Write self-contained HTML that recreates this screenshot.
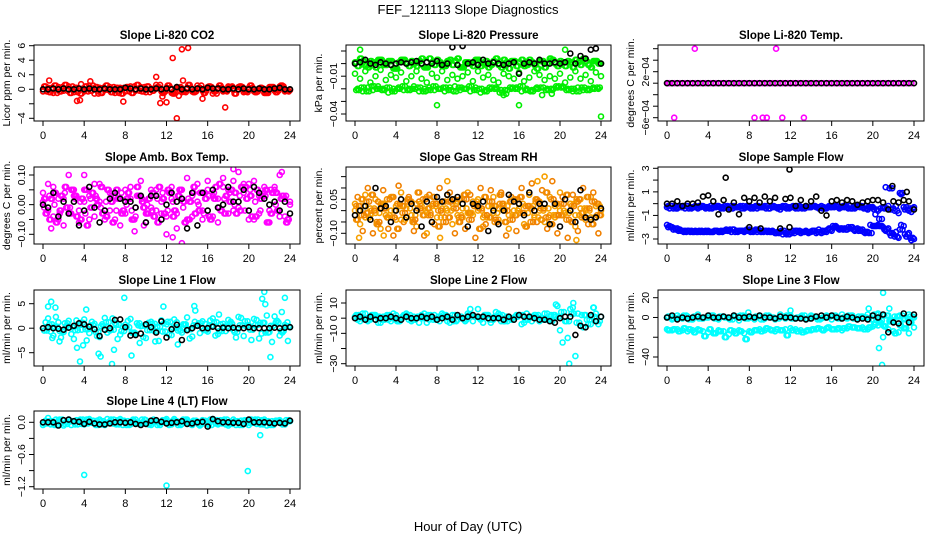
<!DOCTYPE html>
<html><head><meta charset="utf-8">
<style>
html,body{margin:0;padding:0;background:#fff;}
svg{display:block;font-family:"Liberation Sans",Arial,sans-serif;}
</style></head>
<body>
<svg id="chart" width="936" height="540" viewBox="0 0 936 540">
<text x="468" y="14" text-anchor="middle" font-size="13">FEF_121113  Slope Diagnostics</text>
<text x="468" y="531" text-anchor="middle" font-size="13">Hour of Day (UTC)</text>
</svg>
<script>
// ---- shared x (hour) arrays ----
const hoursFull = [0,0.5,1,1.5,2,2.5,3,3.5,4,4.5,5,5.5,6,6.5,7,7.5,8,8.5,9,9.5,10,10.5,11,11.5,12,12.5,13,13.5,14,14.5,15,15.5,16,16.5,17,17.5,18,18.5,19,19.5,20,20.5,21,21.5,22,22.5,23,23.5,24];
const hoursMid = [0.25,0.75,1.25,1.75,2.25,2.75,3.25,3.75,4.25,4.75,5.25,5.75,6.25,6.75,7.25,7.75,8.25,8.75,9.25,9.75,10.25,10.75,11.25,11.75,12.25,12.75,13.25,13.75,14.25,14.75,15.25,15.75,16.25,16.75,17.25,17.75,18.25,18.75,19.25,19.75,20.25,20.75,21.25,21.75,22.25,22.75,23.25,23.75];
const hoursQ1 = [0.12,0.62,1.12,1.62,2.12,2.62,3.12,3.62,4.12,4.62,5.12,5.62,6.12,6.62,7.12,7.62,8.12,8.62,9.12,9.62,10.12,10.62,11.12,11.62,12.12,12.62,13.12,13.62,14.12,14.62,15.12,15.62,16.12,16.62,17.12,17.62,18.12,18.62,19.12,19.62,20.12,20.62,21.12,21.62,22.12,22.62,23.12,23.62];
const hoursQ3 = [0.38,0.88,1.38,1.88,2.38,2.88,3.38,3.88,4.38,4.88,5.38,5.88,6.38,6.88,7.38,7.88,8.38,8.88,9.38,9.88,10.38,10.88,11.38,11.88,12.38,12.88,13.38,13.88,14.38,14.88,15.38,15.88,16.38,16.88,17.38,17.88,18.38,18.88,19.38,19.88,20.38,20.88,21.38,21.88,22.38,22.88,23.38,23.88];
const xTicks = [0,4,8,12,16,20,24];

// ---- Panel 1: CO2 ----
const co2Black = [0,0,0.1,0,0.1,0,0,0.1,0,0.1,0,0,0.1,0,0,0,0.2,0.1,0,0.1,0,0,0.1,0,0.1,0,0.3,0,0.1,0,0.1,0,0.2,0.1,0.1,0,0,0.1,0,0.1,0,0,0.1,0,0,0.1,0.2,0,0];
const co2RedA = [-0.3,0.2,-0.5,0.3,-0.2,0.4,-0.4,0.1,-0.3,0.5,-0.6,0.2,-0.1,0.3,-0.5,0.2,-0.3,0.4,-0.2,0.3,-0.4,0.1,0.6,-0.3,0.2,-0.5,0.3,-0.4,0.2,-0.3,0.5,-0.2,0.3,-0.6,0.2,-0.3,0.4,-0.1,0.3,-0.4,0.2,-0.3,0.1,-0.5,0.3,-0.2,0.4,-0.3,-0.1];
const co2RedB = [0.4,-0.4,0.5,-0.3,0.6,-0.5,0.2,-0.6,0.4,-0.2,0.3,-0.5,0.5,-0.4,0.2,-0.6,0.3,-0.5,0.6,-0.3,0.4,-0.2,0.3,-0.5,0.5,-0.6,0.2,-0.3,0.6,-0.4,0.2,-0.5,0.4,-0.3,0.5,-0.2,0.3,-0.6,0.4,-0.3,0.5,-0.4,0.2,-0.5,0.3,-0.4,0.5,-0.2];
const co2OutX = [0.6,3.3,3.6,3.7,4.6,7.8,11.0,11.4,11.6,12.0,12.6,13.0,13.2,13.5,13.6,14.1,15.5,17.7];
const co2OutY = [1.2,-1.6,-1.5,0.7,1.1,-1.7,1.7,-1.9,-1.0,-1.8,4.3,-4.0,-0.9,5.5,1.2,5.7,-1.3,-2.5];

// ---- Panel 2: Pressure ----
const pressBlack = [0,0.001,0.003,0,-0.001,0.001,0,-0.001,0,0.001,0,0.001,0.002,0,0.001,0,0.002,-0.001,0,0.013,-0.001,0.014,0,0.001,-0.001,0.003,0,0.001,0,-0.001,0,0.001,-0.008,0,0.001,0,0.003,0,0,0.001,0,0.001,0.008,0,0.006,0.004,0.011,0.012,0];
const pressGreenA = [0.001,0.004,-0.002,0.002,-0.003,0.003,-0.001,0.002,-0.004,0.003,0,0.002,-0.002,0.004,-0.003,0.001,0.003,-0.002,0.002,-0.001,0.004,-0.003,0.001,-0.002,0.003,0,-0.003,0.002,-0.001,0.003,-0.004,0.002,0.001,-0.002,0.003,-0.001,0.002,-0.003,0.004,0,0.002,-0.002,0.001,0.003,-0.001,0.002,-0.003,0.002,0];
const pressGreenB = [-0.02,-0.022,-0.019,-0.021,-0.018,-0.02,-0.023,-0.02,-0.019,-0.021,-0.02,-0.018,-0.022,-0.02,-0.019,-0.021,-0.02,-0.022,-0.019,-0.018,-0.021,-0.02,-0.022,-0.019,-0.023,-0.021,-0.02,-0.019,-0.021,-0.024,-0.02,-0.019,-0.022,-0.02,-0.021,-0.019,-0.025,-0.02,-0.021,-0.019,-0.018,-0.02,-0.022,-0.019,-0.021,-0.02,-0.019,-0.02];
const pressGreenC = [-0.008,-0.012,-0.006,-0.015,-0.01,-0.005,-0.013,-0.009,-0.011,-0.007,-0.014,-0.01,-0.006,-0.012,-0.015,-0.008,-0.011,-0.006,-0.013,-0.009,-0.012,-0.01,-0.007,-0.014,-0.006,-0.011,-0.009,-0.013,-0.015,-0.008,-0.01,-0.012,-0.007,-0.014,-0.011,-0.006,-0.009,-0.013,-0.01,-0.012,-0.008,-0.015,-0.011,-0.006,-0.012,-0.009,-0.014,-0.007,-0.01];
const pressGreenD = [-0.002,0.002,-0.003,0.001,0.003,-0.001,0.002,-0.004,0.001,0.003,-0.002,0,0.002,-0.003,0.004,-0.001,0.001,-0.002,0.003,0.002,-0.003,0.001,0,0.003,-0.002,0.002,-0.001,0.004,-0.003,0.001,0.002,-0.002,0.003,-0.001,0.001,-0.004,0.002,0,0.003,-0.002,0.001,0.002,-0.003,0.001,0.004,-0.001,0.002,0];
const pressGreenE = [-0.021,-0.019,-0.022,-0.018,-0.02,-0.021,-0.019,-0.022,-0.02,-0.018,-0.021,-0.02,-0.019,-0.022,-0.021,-0.018,-0.02,-0.019,-0.021,-0.022,-0.019,-0.02,-0.018,-0.021,-0.02,-0.022,-0.019,-0.02,-0.023,-0.021,-0.019,-0.02,-0.018,-0.021,-0.022,-0.02,-0.019,-0.021,-0.02,-0.018,-0.019,-0.021,-0.02,-0.022,-0.019,-0.021,-0.02,-0.019];
const pressOutX = [0.5,8.0,16.0,24.0,20.5,14.5,19.2];
const pressOutY = [0.011,-0.033,-0.033,-0.042,0.011,-0.025,-0.024];

// ---- Panel 3: Li-820 Temp ----
const tempBlack = [0,0,0,0,0,0,0,0,0,0,0,0,0,0,0,0,0,0,0,0,0,0,0,0,0,0,0,0,0,0,0,0,0,0,0,0,0,0,0,0,0,0,0,0,0,0,0,0,0];
const tempMagenta = [0,0,0,0,0,0,0,0,0,0,0,0,0,0,0,0,0,0,0,0,0,0,0,0,0,0,0,0,0,0,0,0,0,0,0,0,0,0,0,0,0,0,0,0,0,0,0,0];
const tempOutX = [0.1,0.7,2.7,8.5,9.3,9.7,10.6,11.2,13.3];
const tempOutY = [0,-6e-4,6e-4,-6e-4,-6e-4,-6e-4,6e-4,-6e-4,-6e-4];

// ---- Panel 4: Amb Box Temp ----
const ambBlack = [0,-0.01,0.04,-0.04,0.01,-0.03,0.01,-0.07,-0.02,0.06,-0.01,-0.06,-0.02,0.02,0.04,0.02,0.01,0.01,-0.01,0.03,-0.06,0.03,0.03,-0.05,0,0.04,0.01,0.02,-0.08,0.04,-0.07,0.04,-0.02,0.05,-0.01,0,0.06,0.01,0.01,0.05,-0.02,0.06,0.04,0.02,0,0.01,-0.02,0.01,-0.03];
const ambMagA = [0.04,-0.02,0.06,-0.05,0.02,-0.03,0.05,-0.06,0.01,0.03,-0.04,0.07,-0.02,0.04,-0.05,0.02,-0.03,0.06,-0.01,0.03,-0.06,0.05,-0.02,0.01,-0.04,0.06,-0.03,0.02,-0.05,0.03,0.07,-0.02,0.05,-0.04,0.02,0.06,-0.03,0.08,-0.01,0.04,0.07,-0.05,0.03,0.06,-0.02,0.05,-0.04,0.02,0.01];
const ambMagB = [-0.03,0.02,-0.06,0.03,-0.01,0.05,-0.04,0.02,-0.07,0.04,0,-0.03,0.05,-0.06,0.02,-0.02,0.04,-0.05,0.03,-0.01,0.02,-0.04,0.06,-0.03,0.04,-0.02,0.05,-0.06,0.01,-0.03,0.04,0.02,-0.05,0.06,-0.02,0.03,0.05,-0.03,0.06,0.02,-0.04,0.05,0.03,-0.06,0.04,-0.02,0.03,-0.05];
const ambMagC = [0.01,0.07,-0.04,0.02,-0.07,0.1,0.03,-0.02,0.05,-0.05,0.07,0.01,-0.05,-0.02,0.03,-0.07,0.05,0.02,-0.04,0.08,-0.03,-0.01,0.05,-0.03,-0.1,0.02,-0.08,0.05,0.09,-0.04,0.01,-0.05,0.08,0.03,-0.06,0.09,0.05,-0.02,0.11,0.07,-0.05,0.08,-0.03,0.04,-0.06,0.06,0.1,-0.04,0];
const ambMagD = [0.02,-0.05,0.04,-0.02,0.06,-0.03,0.03,-0.05,0.05,-0.01,0.02,0.06,-0.04,0.01,0.05,-0.03,0.02,-0.05,0.06,0.01,-0.03,0.04,-0.06,0.02,0.05,-0.04,0.03,0.01,-0.05,0.06,-0.02,0.04,-0.04,0.02,0.07,-0.03,0.01,0.04,-0.02,0.06,0.03,-0.04,0.02,0.05,-0.03,0.04,0.02,-0.06];
const ambMagE = [-0.01,0.03,0,-0.03,0.04,-0.01,0.02,0.01,-0.03,0.02,0.03,-0.01,0.01,0.03,-0.02,0.04,0,-0.02,0.03,0.02,0,-0.02,0.02,0.04,-0.02,0.01,0.03,-0.01,0.02,0.04,0,-0.03,0.03,0.04,-0.01,0.02,0.04,0,0.03,-0.02,0.05,0.01,-0.02,0.03,0.05,0,0.02,0.03];
const ambOutX = [0.8,4.0,8.9,9.8,12.6,13.5,18.5,23.2];
const ambOutY = [-0.08,0.1,-0.09,-0.07,-0.11,-0.13,0.12,0.11];

// ---- Panel 5: Gas Stream RH ----
const rhBlack = [-0.02,0,0.02,-0.04,0.1,0.01,0.02,-0.05,0,0.05,-0.03,0.03,0,-0.07,0.04,-0.05,0.06,0.04,0.07,0.05,0.06,0.03,-0.07,0.03,0.02,0.04,-0.09,0,-0.06,0,0.07,0.04,0.03,-0.02,0.08,0,0.03,0.03,-0.06,0.03,-0.07,0.05,0,-0.05,0.09,-0.03,-0.04,-0.03,0.01];
const rhOrangeA = [0.03,-0.06,0.07,-0.02,0.05,-0.08,0.01,0.06,-0.04,0.08,-0.03,0.04,-0.07,0.02,0.06,-0.05,0.03,-0.01,0.07,-0.06,0.04,-0.03,0.08,-0.02,0.05,-0.07,0.02,0.06,-0.04,0.03,-0.08,0.05,0.01,-0.06,0.07,-0.02,0.04,-0.05,0.06,-0.03,0.08,-0.01,0.03,-0.07,0.05,-0.04,0.06,0.02,-0.02];
const rhOrangeB = [-0.04,0.05,-0.01,0.07,-0.06,0.03,-0.03,0.06,-0.08,0.02,0.05,-0.05,0.08,-0.02,0.01,0.06,-0.07,0.04,-0.03,0.05,-0.05,0.07,-0.01,0.03,-0.08,0.06,-0.03,0.02,0.07,-0.05,0.04,-0.02,0.06,-0.07,0.01,0.05,-0.04,0.08,-0.06,0.03,-0.02,0.07,-0.05,0.04,-0.01,0.06,-0.06,0.03];
const rhOrangeC = [0,0.02,-0.03,0.01,-0.01,0.03,-0.02,0,0.02,-0.04,0.01,-0.02,0.03,0,-0.01,0.02,-0.03,0.01,0,0.03,-0.02,0.01,-0.01,0.04,0,-0.03,0.02,-0.01,0.01,0.02,-0.02,0,0.03,-0.01,0.02,-0.03,0,0.01,-0.02,0.02,0,-0.01,0.03,-0.02,0.01,0,-0.03,0.02,0];
const rhOrangeD = [0.06,-0.09,0.1,-0.1,0.04,0.09,-0.08,-0.11,0.11,-0.05,0.06,-0.09,0.04,-0.11,0.07,-0.06,0.1,-0.03,0.08,-0.1,0.05,-0.08,0.07,-0.12,0.1,-0.06,0.09,-0.04,0.08,-0.11,0.06,-0.09,0.1,-0.07,0.12,-0.05,0.09,-0.08,0.13,-0.1,0.06,-0.12,0.07,-0.09,0.1,-0.06,0.08,-0.1];
const rhOrangeE = [0.02,-0.02,0.04,0,-0.05,0.01,0.05,-0.03,0.03,-0.01,0.04,-0.04,0.01,0.05,-0.02,0.03,0,-0.05,0.04,0.01,-0.03,0.05,-0.04,0.02,0.01,-0.02,0.04,-0.05,0.03,0,-0.04,0.05,-0.01,0.02,-0.05,0.04,0.01,-0.03,0.05,-0.02,0.03,-0.04,0.02,0.05,-0.03,0.01,0.04,-0.02];
const rhOutX = [0.4,2.8,8.3,18.5,21.6,17.8,7.0,9.0];
const rhOutY = [-0.12,-0.11,-0.12,0.15,-0.13,0.13,-0.1,0.13];

// ---- Panel 6: Sample Flow ----
const flowBlack = [0,0,0.2,-0.2,0,0,0.1,0.6,0.7,0.2,-0.9,0.3,-0.5,0.1,-0.9,0.5,0.2,0.5,0.1,0.6,0.2,0.5,-2.1,0.4,0.5,-0.2,0.3,-0.2,0.2,0.6,-0.6,-1.0,0.2,0.3,0.1,0.3,0.2,-0.1,0.1,0.2,0.3,0.3,0.1,-0.5,0.2,0.1,0.3,0.2,-0.5];
const flowBlueA = [-0.3,-0.2,-0.4,-0.3,-0.2,-0.3,-0.4,-0.2,-0.3,-0.3,-0.2,-0.4,-0.3,-0.2,-0.3,-0.4,-0.2,-0.3,-0.3,-0.2,-0.4,-0.3,-0.5,-0.2,-0.3,-0.4,-0.3,-0.2,-0.3,-0.3,-0.2,-0.4,-0.3,-0.2,-0.3,-0.3,-0.4,-0.2,-0.3,-0.5,-0.3,-0.6,-0.3,-0.2,-0.4,-0.8,-0.3,-0.6,-0.3];
const flowBlueB = [-0.4,-0.3,-0.2,-0.4,-0.3,-0.2,-0.3,-0.4,-0.2,-0.3,-0.4,-0.3,-0.2,-0.3,-0.4,-0.2,-0.3,-0.4,-0.3,-0.2,-0.3,-0.4,-0.2,-0.3,-0.2,-0.4,-0.3,-0.3,-0.2,-0.4,-0.3,-0.2,-0.3,-0.4,-0.3,-0.2,-0.4,-0.3,-0.2,-0.3,-0.9,-0.4,1.4,-0.5,-0.2,0.8,-0.3,-0.7];
const flowBlueC = [-1.8,-2.0,-2.1,-2.3,-2.3,-2.4,-2.4,-2.4,-2.3,-2.4,-2.4,-2.3,-2.3,-2.2,-2.3,-2.4,-2.2,-2.3,-2.3,-2.3,-2.4,-2.5,-2.4,-2.5,-2.4,-2.3,-2.5,-2.3,-2.4,-2.5,-2.5,-2.4,-2.3,-2.0,-2.1,-2.2,-2.0,-2.1,-2.2,-2.4,-1.9,-1.8,-2.0,-2.1,-2.6,-2.9,-1.9,-2.5,-3.0];
const flowBlueD = [-1.9,-2.1,-2.2,-2.3,-2.4,-2.3,-2.4,-2.3,-2.4,-2.3,-2.3,-2.2,-2.4,-2.3,-2.3,-2.2,-2.3,-2.4,-2.3,-2.4,-2.3,-2.4,-2.6,-2.4,-2.3,-2.4,-2.4,-2.5,-2.3,-2.2,-2.4,-2.1,-2.0,-2.2,-2.1,-2.1,-2.3,-2.2,-2.5,-1.8,-1.9,-1.9,-2.3,-2.7,-2.4,-1.8,-2.8,-3.1];
const flowBlueE = [-0.2,-0.4,-0.3,-0.2,-0.4,-0.3,-0.2,-0.3,-0.4,-0.2,-0.3,-0.2,-0.4,-0.3,-0.2,-0.3,-0.4,-0.2,-0.3,-0.4,-0.2,-0.3,-0.3,-0.4,-0.3,-0.2,-0.4,-0.3,-0.2,-0.3,-0.4,-0.3,-0.2,-0.3,-0.2,-0.4,-0.3,-0.2,-0.4,-0.3,-0.5,-1.3,-0.4,1.3,-0.6,0.9,-0.5,-0.4];
const flowBlueF = [-2.0,-2.2,-2.3,-2.4,-2.3,-2.4,-2.3,-2.4,-2.4,-2.3,-2.4,-2.3,-2.2,-2.4,-2.3,-2.3,-2.4,-2.2,-2.4,-2.3,-2.4,-2.5,-2.3,-2.6,-2.5,-2.3,-2.4,-2.4,-2.3,-2.4,-2.3,-2.2,-1.9,-2.1,-2.2,-2.0,-2.2,-2.3,-2.4,-2.5,-1.9,-1.9,-2.2,-2.5,-2.8,-2.2,-2.6,-2.9];
const flowOutX = [5.7,11.9,11.9,8.0,9.1,21.9,23.3];
const flowOutY = [2.2,2.9,-2.0,-2.0,-2.1,1.5,1.0];

// ---- Panel 7: Line 1 Flow ----
const l1Black = [0,0.2,0,-0.1,-0.3,0.1,0.5,1.0,0.8,0.3,-0.2,-1.6,-0.3,0,1.7,1.8,0.2,-1.5,-1.4,-1.1,0.8,0.2,-0.9,1.4,-1.9,-0.2,0.7,-2.4,-0.4,0,0.5,0,0,0.3,0,0.1,0,0.1,0,0,0.2,0,0,0,0,0.1,0,0.1,0.2];
const l1CyanA = [0,2.0,-1.5,1.2,-0.8,1.5,-2.2,0.6,1.8,-1.0,0.9,-1.8,2.1,-0.5,1.0,-1.3,0.7,1.9,-1.1,0.4,-2.0,1.3,-0.6,1.6,0.8,-1.4,1.2,-0.9,2.2,-1.7,0.5,1.4,-0.7,2.0,-1.2,0.9,1.7,-0.4,2.3,-1.6,0.6,1.9,-2.1,1.1,-0.8,2.4,-1.5,0.7,0.2];
const l1CyanB = [1.2,-0.7,2.3,-1.9,0.4,-1.2,1.6,-0.3,-2.5,1.3,-1.6,0.8,-0.9,2.0,-2.2,0.3,1.5,-1.0,0.6,-1.8,1.1,-0.5,-2.6,1.0,-1.3,1.8,-0.2,0.7,-2.1,1.3,-1.0,0.9,1.6,-1.5,0.8,-0.6,1.3,-1.9,2.1,0.4,-2.4,1.7,-1.1,2.6,-2.8,1.5,-0.9,1.2];
const l1CyanC = [-0.5,0.8,0.3,-0.6,1.0,0.2,-0.4,1.1,-0.2,0.6,-0.8,0.4,1.2,-0.3,0.7,-0.6,0.2,-0.9,1.0,0.5,-0.4,0.9,0.3,-0.7,1.3,0.1,-0.5,0.8,-0.2,0.6,1.0,-0.4,0.5,1.2,-0.6,0.3,0.9,-0.8,0.6,1.4,-0.3,0.7,1.1,-0.9,0.5,1.2,-0.6,0.4];
const l1OutX = [0.5,0.8,1.2,1.6,3.3,3.6,4.2,5.4,5.6,6.7,6.9,7.9,8.6,9.4,11.7,14.7,14.8,17.1,21.3,21.5,21.6,22.1,23.2,23.5,23.8,0.9,3.9,10.9,13.1];
const l1OutY = [4.4,5.4,4.2,-2.7,-4.0,-6.8,3.8,-5.2,-5.8,-7.3,-4.4,6.2,-5.6,-3.0,4.4,4.5,3.6,2.8,6.0,7.4,4.9,-5.9,3.3,6.2,-2.6,-2.0,-3.5,-2.7,-3.3];

// ---- Panel 8: Line 2 Flow ----
const l2Black = [0,1,-1,1,-1,0,0,1,0,-1,1,0,0,1,0,1,-1,0,1,-1,2,0,1,2,1,1,0,0,0,-1,1,-1,2,1,1,0,-1,-1,-2,-3,0,1,1,-11,-5,-6,2,-2,1];
const l2CyanA = [1,-2,3,-1,2,-3,1,-2,2,-1,3,-2,0,2,-3,1,-1,3,-2,2,-1,0,3,-2,1,-3,2,-1,3,-2,1,-1,2,-3,0,2,-2,3,-1,2,-8,-2,6,-25,-5,2,-4,3,1];
const l2CyanB = [-1,3,-2,2,-3,1,-1,3,-2,2,-1,1,-3,3,-1,2,-2,1,-3,2,0,-2,6,1,-1,2,-3,4,-2,1,-1,2,-4,3,-2,1,-1,3,-2,8,-16,-13,7,3,-6,-4,7,-4];
const l2CyanC = [2,0,-1,2,1,-1,2,0,-2,1,2,-1,1,0,2,-1,1,2,0,-2,1,-1,2,1,0,2,-1,1,2,-2,0,1,2,-1,1,2,0,-1,2,1,4,-2,3,-3,2,-1,1,-2];
const l2OutX = [21.0,20.9,21.3,12.0,19.6,23.3];
const l2OutY = [28,-30,10,6,9,7];

// ---- Panel 9: Line 3 Flow ----
const l3Black = [0,2,-2,0,-1,0,1,0,2,0,0,1,0,2,0,0,1,0,2,0,0,-1,1,0,0,-1,-1,-2,-1,1,2,0,2,0,-1,1,0,-2,-1,-2,2,0,3,-15,-5,-6,4,-5,3];
const l3CyanA = [0,-2,2,-1,1,-2,3,-1,0,2,-2,1,-1,2,-3,1,0,-2,2,-1,1,-2,3,-1,2,-1,1,-2,2,0,-1,2,-2,1,3,-1,2,-2,1,3,-2,4,-8,2,-3,1,-2,3,0];
const l3CyanB = [-12,-13,-12,-13,-14,-13,-12,-14,-15,-16,-13,-14,-17,-14,-13,-16,-14,-13,-12,-13,-12,-14,-13,-12,-11,-12,-13,-14,-13,-12,-12,-11,-12,-12,-13,-11,-10,-11,-10,-12,-9,-8,-20,-12,-14,-15,-11,-16,-10];
const l3CyanC = [-13,-12,-14,-11,-12,-15,-13,-19,-12,-16,-14,-20,-13,-16,-14,-22,-15,-13,-14,-11,-13,-12,-13,-18,-13,-14,-15,-13,-12,-11,-13,-10,-12,-11,-11,-9,-10,-11,-12,-10,-7,-5,-9,-3,-16,-8,-11,-5];
const l3CyanD = [1,-1,0,2,-2,1,-1,0,2,-1,1,0,-2,1,2,-1,0,1,-2,2,0,-1,1,2,-1,0,2,-1,1,-2,0,1,2,-1,0,2,-1,1,0,-2,3,-3,2,-4,1,2,-1,1];
const l3OutX = [21.0,20.9,20.6,21.6,12.0,7.9,19.6];
const l3OutY = [25,-48,-31,9,7,5,9];

// ---- Panel 10: Line 4 (LT) Flow ----
const l4Black = [0,0,0,-0.06,0.04,0.05,0.02,0.01,-0.03,0.01,-0.02,-0.04,-0.04,-0.02,0,0,-0.01,0,-0.03,-0.05,-0.03,0.03,0.04,0.01,-0.02,-0.01,0,0.02,-0.03,-0.02,0,0.01,-0.08,0.06,0.02,0,0,-0.01,-0.01,-0.03,0.05,0,0,0,-0.01,-0.02,-0.01,-0.02,0.03];
const l4CyanA = [-0.05,0.08,-0.03,0.04,-0.06,0.05,0,0.03,-0.04,0.06,-0.02,0.05,-0.05,0.02,-0.03,0.06,0,-0.04,0.05,-0.02,0.04,-0.05,0.03,-0.01,0.06,-0.04,0.02,-0.03,0.05,-0.05,0.01,0.04,-0.02,0.06,-0.04,0.03,-0.06,0.05,-0.01,0.03,-0.05,0.04,-0.02,0.05,-0.03,0.01,0.04,-0.04,0.02];
const l4CyanB = [0.03,-0.04,0.05,-0.02,0.01,-0.05,0.04,-0.03,0.05,-0.01,0.03,-0.04,0.06,-0.02,0.04,-0.05,0.02,0.05,-0.03,0.01,-0.04,0.05,-0.02,0.03,-0.05,0.06,-0.01,0.04,-0.03,0.02,-0.06,0.03,0.05,-0.02,0.04,-0.04,0.01,-0.05,0.03,-0.02,0.05,-0.03,0.04,-0.06,0.02,0.03,-0.04,0.01];
const l4CyanC = [-0.02,0.02,-0.05,0.05,-0.03,0.02,-0.04,0.05,-0.02,0.03,-0.05,0.02,-0.01,0.05,-0.04,0.03,-0.05,0.02,-0.02,0.05,-0.03,0.01,-0.05,0.04,-0.02,0.03,-0.05,0.05,-0.01,0.03,-0.04,0.02,-0.05,0.04,-0.02,0.05,-0.03,0.02,-0.05,0.04,-0.01,0.05,-0.04,0.02,-0.05,0.03,-0.02,0.04];
const l4OutX = [4.0,12.0,19.9,21.1];
const l4OutY = [-0.98,-1.18,-0.91,-0.24];

const NS = "http://www.w3.org/2000/svg";
const svg = document.getElementById('chart');
function mk(tag, attrs, parent){ const e=document.createElementNS(NS,tag); for(const k in attrs) e.setAttribute(k,attrs[k]); (parent||svg).appendChild(e); return e; }

const cols = [[34,300],[346,611],[658,924]];
const rows = [[45,121],[167,244],[290,366],[411,489]];

const panels = [
 {name:'co2', title:'Slope Li-820 CO2', yl:'Licor ppm per min.', c:0,r:0, m:[6,45.7,-4,118.3], ticks:[-4,-2,0,2,4,6], labels:['-4','','0','2','4','6'],
  series:[[hoursFull,co2RedA,'#ff0000'],[hoursMid,co2RedB,'#ff0000'],[hoursQ1,co2RedB,'#ff0000'],[hoursQ3,co2RedA,'#ff0000'],[co2OutX,co2OutY,'#ff0000'],[hoursFull,co2Black,'#000']]},
 {name:'pressure', title:'Slope Li-820 Pressure', yl:'kPa per min.', c:1,r:0, m:[0.01,51,-0.04,114], ticks:[-0.04,-0.03,-0.02,-0.01,0,0.01], labels:['-0.04','','','-0.01','',''],
  series:[[hoursFull,pressGreenA,'#00ee00'],[hoursMid,pressGreenB,'#00ee00'],[hoursFull,pressGreenC,'#00ee00'],[hoursMid,pressGreenD,'#00ee00'],[hoursQ1,pressGreenE,'#00ee00'],[hoursQ3,pressGreenD,'#00ee00'],[hoursQ1,pressGreenA,'#00ee00'],[hoursQ3,pressGreenE,'#00ee00'],[pressOutX,pressOutY,'#00ee00'],[hoursFull,pressBlack,'#000']]},
 {name:'li820-temp', title:'Slope Li-820 Temp.', yl:'degrees C per min.', c:2,r:0, m:[2e-4,71.7,-6e-4,117.7], ticks:[-6e-4,-4e-4,-2e-4,0,2e-4,4e-4,6e-4], labels:['-6e-04','','','','2e-04','',''],
  series:[[hoursMid,tempMagenta,'#ff00ff'],[tempOutX,tempOutY,'#ff00ff'],[hoursFull,tempBlack,'#000']]},
 {name:'amb-box-temp', title:'Slope Amb. Box Temp.', yl:'degrees C per min.', c:0,r:1, m:[0.1,175,-0.1,234.3], ticks:[-0.1,-0.05,0,0.05,0.1], labels:['-0.10','','0.00','','0.10'],
  series:[[hoursFull,ambMagA,'#ff00ff'],[hoursMid,ambMagB,'#ff00ff'],[hoursFull,ambMagC,'#ff00ff'],[hoursMid,ambMagD,'#ff00ff'],[hoursQ1,ambMagE,'#ff00ff'],[hoursQ3,ambMagB,'#ff00ff'],[hoursQ1,ambMagD,'#ff00ff'],[ambOutX,ambOutY,'#ff00ff'],[hoursFull,ambBlack,'#000']]},
 {name:'gas-stream-rh', title:'Slope Gas Stream RH', yl:'percent per min.', c:1,r:1, m:[0.05,199.3,-0.1,233.3], ticks:[-0.1,-0.05,0,0.05,0.1,0.15], labels:['-0.10','','','0.05','',''],
  series:[[hoursFull,rhOrangeA,'#f7a000'],[hoursMid,rhOrangeB,'#f08000'],[hoursFull,rhOrangeC,'#f7a000'],[hoursMid,rhOrangeD,'#f08000'],[hoursQ1,rhOrangeE,'#f29000'],[hoursQ3,rhOrangeC,'#f7a000'],[hoursQ1,rhOrangeB,'#f29000'],[hoursQ3,rhOrangeE,'#f08000'],[rhOutX,rhOutY,'#f7a000'],[hoursFull,rhBlack,'#000']]},
 {name:'sample-flow', title:'Slope Sample Flow', yl:'ml/min per min.', c:2,r:1, m:[3,168.3,-3,239], ticks:[-3,-2,-1,0,1,2,3], labels:['-3','','-1','','1','','3'],
  series:[[hoursFull,flowBlueA,'#0000ff'],[hoursMid,flowBlueB,'#0000ff'],[hoursFull,flowBlueC,'#0000ff'],[hoursMid,flowBlueD,'#0000ff'],[hoursQ1,flowBlueE,'#0000ff'],[hoursQ3,flowBlueF,'#0000ff'],[hoursQ1,flowBlueF,'#0000ff'],[hoursQ3,flowBlueE,'#0000ff'],[hoursFull,flowBlack,'#000'],[flowOutX,flowOutY,'#000']]},
 {name:'line1-flow', title:'Slope Line 1 Flow', yl:'ml/min per min.', c:0,r:2, m:[5,303.7,-5,352.7], ticks:[-5,0,5], labels:['-5','0','5'],
  series:[[hoursFull,l1CyanA,'#00ffff'],[hoursMid,l1CyanB,'#00ffff'],[hoursQ1,l1CyanC,'#00ffff'],[hoursQ3,l1CyanC,'#00ffff'],[l1OutX,l1OutY,'#00ffff'],[hoursFull,l1Black,'#000']]},
 {name:'line2-flow', title:'Slope Line 2 Flow', yl:'ml/min per min.', c:1,r:2, m:[10,303,-30,363.7], ticks:[-30,-20,-10,0,10], labels:['-30','','-10','0','10'],
  series:[[hoursFull,l2CyanA,'#00ffff'],[hoursMid,l2CyanB,'#00ffff'],[hoursQ1,l2CyanC,'#00ffff'],[hoursQ3,l2CyanC,'#00ffff'],[l2OutX,l2OutY,'#00ffff'],[hoursFull,l2Black,'#000']]},
 {name:'line3-flow', title:'Slope Line 3 Flow', yl:'ml/min per min.', c:2,r:2, m:[20,297.7,-40,357], ticks:[-40,-20,0,20], labels:['-40','','0','20'],
  series:[[hoursFull,l3CyanA,'#00ffff'],[hoursFull,l3CyanB,'#00ffff'],[hoursMid,l3CyanC,'#00ffff'],[hoursQ1,l3CyanD,'#00ffff'],[hoursQ3,l3CyanD,'#00ffff'],[hoursQ1,l3CyanC,'#00ffff'],[l3OutX,l3OutY,'#00ffff'],[hoursFull,l3Black,'#000']]},
 {name:'line4-flow', title:'Slope Line 4 (LT) Flow', yl:'ml/min per min.', c:0,r:3, m:[0,422.3,-1.2,486.7], ticks:[-1.2,-0.9,-0.6,-0.3,0], labels:['-1.2','','-0.6','','0.0'],
  series:[[hoursFull,l4CyanA,'#00ffff'],[hoursMid,l4CyanB,'#00ffff'],[hoursQ1,l4CyanC,'#00ffff'],[hoursQ3,l4CyanC,'#00ffff'],[l4OutX,l4OutY,'#00ffff'],[hoursFull,l4Black,'#000']]}
];

panels.forEach(p=>{
  const [L,R]=cols[p.c], [T,B]=rows[p.r];
  const g = mk('g',{});
  
  
  const xs = h => (L+9) + h/24*((R-10)-(L+9));
  const ys = v => p.m[1] + (v-p.m[0])*(p.m[3]-p.m[1])/(p.m[2]-p.m[0]);
  const clip = 'clip-'+p.name;
  const cp = mk('clipPath',{id:clip},g); mk('rect',{x:L,y:T,width:R-L,height:B-T},cp);
  const t = mk('text',{x:(L+R)/2,y:T-6,'text-anchor':'middle','font-size':11.5,'font-weight':'bold'},g);
  t.textContent = p.title;
  
  
  const pts = mk('g',{'clip-path':'url(#'+clip+')',fill:'none','stroke-width':1.6},g);
  
  
  p.series.forEach(s=>{
    const [X,Y,col]=s;
    const n=Math.min(X.length,Y.length);
    for(let i=0;i<n;i++){
      const c = mk('circle',{cx:xs(X[i]).toFixed(1),cy:ys(Y[i]).toFixed(1),r:2.5,stroke:col},pts);
      
      
    }
  });
  const box = mk('rect',{x:L,y:T,width:R-L,height:B-T,fill:'none',stroke:'#000','stroke-width':1},g);
  
  
  const xa = mk('g',{stroke:'#000','stroke-width':1},g);
  
  
  xTicks.forEach(h=>{
    mk('line',{x1:xs(h),x2:xs(h),y1:B,y2:B+5},xa);
    const tl = mk('text',{x:xs(h),y:B+18,'text-anchor':'middle','font-size':11,stroke:'none',fill:'#000'},xa);
    tl.textContent = h;
    
    
  });
  const ya = mk('g',{stroke:'#000','stroke-width':1},g);
  
  
  p.ticks.forEach((v,i)=>{
    const y=ys(v);
    mk('line',{x1:L-5,x2:L,y1:y,y2:y},ya);
    if(p.labels[i]){
      const tl = mk('text',{x:L-9,y:y,'text-anchor':'middle','font-size':10.5,stroke:'none',fill:'#000',transform:'rotate(-90 '+(L-9)+' '+y+')'},ya);
      tl.textContent = p.labels[i].replace('-','\u2212').replace('e-','e\u2212');
      
      
    }
  });
  const yl = mk('text',{x:L-24,y:(T+B)/2,'text-anchor':'middle','font-size':10.5,transform:'rotate(-90 '+(L-24)+' '+((T+B)/2)+')'},g);
  yl.textContent = p.yl;
  
  
});
</script>
</body></html>
